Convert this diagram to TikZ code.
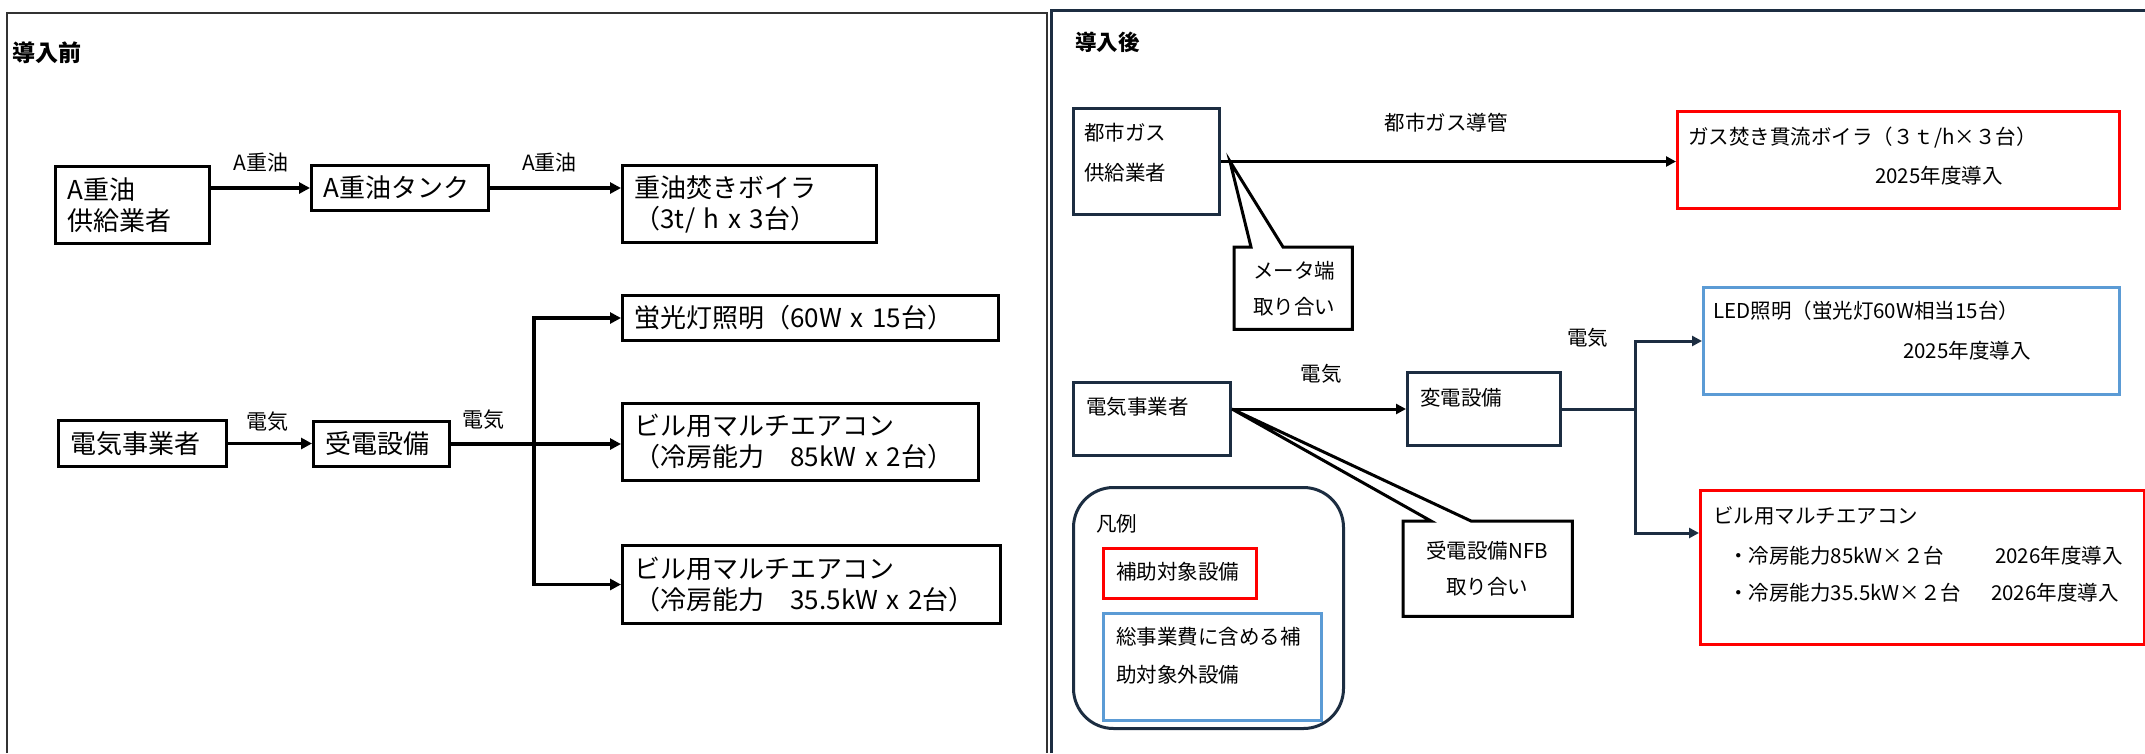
\documentclass[tikz,border=0pt]{standalone}
\usepackage{fontspec}
\newfontfamily\jp{Noto Sans CJK JP}
\usetikzlibrary{arrows.meta,calc}
\definecolor{navy}{RGB}{28,45,65}
\definecolor{lblue}{RGB}{91,155,213}
\definecolor{myred}{RGB}{255,0,0}
\newcommand\fbig{\jp\fontsize{26}{31}\selectfont}
\newcommand\fmid{\jp\fontsize{21}{25}\selectfont}
\newcommand\fsml{\jp\fontsize{20.5}{25}\selectfont}
\newcommand\fcall{\jp\fontsize{20.5}{36}\selectfont}
\begin{document}
\begin{tikzpicture}[x=1pt,y=-1pt,
  lbox/.style={draw=black, line width=3pt, anchor=north west, align=left, inner xsep=12pt, inner ysep=0pt, font=\fbig},
  rbox/.style={draw=navy, line width=3pt, anchor=north west, inner sep=0pt},
  redbox/.style={draw=myred, line width=3pt, anchor=north west, inner sep=0pt},
  bluebox/.style={draw=lblue, line width=3pt, anchor=north west, inner sep=0pt},
  txt/.style={inner sep=0pt, anchor=west, font=\fsml},
  ltxt/.style={inner sep=0pt, font=\fmid},
  ctxt/.style={inner sep=0pt, align=center, font=\fcall},
  larr/.style={line width=3.5pt, -{Triangle[length=11pt,width=11pt]}},
  rarr/.style={draw=navy, line width=3pt, -{Triangle[length=10pt,width=10pt]}},
  barr/.style={draw=black, line width=3pt, -{Triangle[length=10pt,width=10pt]}},
  cline/.style={draw=black, line width=3pt, fill=white},
  callbox/.style={anchor=north west, inner sep=0pt},
]
\useasboundingbox (0,0) rectangle (2145,753);
\fill[white] (0,0) rectangle (2145,753);

% ---------------- left panel ----------------
\draw[line width=2pt, black!80] (7,753) -- (7,13) -- (1047,13) -- (1047,753);
\node[txt, font=\jp\bfseries\fontsize{23}{23}\selectfont] (tbefore) at (12,52.5) {導入前};

\node[lbox, text width=130pt, minimum height=77pt] (sup) at (54,165) {A重油\\供給業者};
\node[lbox, text width=153pt, minimum height=45pt] (tank) at (310,164) {A重油タンク};
\node[lbox, text width=230pt, minimum height=77pt] (boil) at (621,164) {重油焚きボイラ\\（3t/~h~x~3台）};
\node[lbox, text width=352pt, minimum height=45pt] (light) at (621,294) {蛍光灯照明（60W~x~15台）};
\node[lbox, text width=332pt, minimum height=77pt] (ac1) at (621,402) {ビル用マルチエアコン\\（冷房能力　85kW~x~2台）};
\node[lbox, text width=354pt, minimum height=78pt] (ac2) at (621,544) {ビル用マルチエアコン\\（冷房能力　35.5kW~x~2台）};
\node[lbox, text width=144pt, minimum height=46pt] (elec) at (57,419) {電気事業者};
\node[lbox, text width=112pt, minimum height=45pt] (recv) at (312,420) {受電設備};

\draw[larr] (tank.west -| sup.east) -- (tank.west);
\draw[larr] (tank.east) -- (tank.east -| boil.west);
\draw[larr] (elec.east) -- (elec.east -| recv.west);
\coordinate (jl) at (534,0);
\draw[larr] (recv.east) -- (recv.east -| ac1.west);
\draw[larr] (recv.east -| jl) |- (light.west);
\draw[larr] (recv.east -| jl) |- (ac2.west);

\node[ltxt] (lab1) at (261,163) {A重油};
\node[ltxt] (lab2) at (549.5,163) {A重油};
\node[ltxt] (lab3) at (267,421.5) {電気};
\node[ltxt] (lab4) at (483.5,420) {電気};

% ---------------- right panel ----------------
\draw[line width=3pt, navy] (1051,753) -- (1051,10) -- (2145,10);
\node[txt, font=\jp\bfseries\fontsize{21.5}{22}\selectfont] (tafter) at (1075,42) {導入後};

\node[rbox, minimum width=146pt, minimum height=106pt] (gas) at (1072,107) {};
\node[txt] (gast1) at (1084,132.5) {都市ガス};
\node[txt] (gast2) at (1084,172.5) {供給業者};

\node[redbox, minimum width=442pt, minimum height=97pt] (rboil) at (1676,110) {};
\node[txt] (rboilt1) at (1688,137.5) {ガス焚き貫流ボイラ（３ｔ/h×３台）};
\node[txt] (rboilt2) at (1875,176) {2025年度導入};

% callout: meter
\node[callbox, minimum width=118pt, minimum height=82pt] (meter) at (1234,247) {};
\draw[cline] (meter.north west) -- ++(17,0) -- ($(gas.east)+(9,0)$) -- ($(meter.north west)+(49,0)$) -- (meter.north east) -- (meter.south east) -- (meter.south west) -- cycle;
\node[ctxt] (metert) at (1294,289) {メータ端\\取り合い};

\draw[barr, line width=3.5pt] (gas.east) -- (gas.east -| rboil.west);
\node[ltxt, font=\fsml] (gasl) at (1446,122.5) {都市ガス導管};

\node[bluebox, minimum width=416pt, minimum height=107pt] (led) at (1702,286) {};
\node[txt] (ledt1) at (1713,311) {LED照明（蛍光灯60W相当15台）};
\node[txt] (ledt2) at (1903,351) {2025年度導入};

\node[rbox, minimum width=157pt, minimum height=73pt] (relec) at (1072,381) {};
\node[txt] (relect) at (1086,407) {電気事業者};
\node[rbox, minimum width=153pt, minimum height=73pt] (hen) at (1406,371) {};
\node[txt] (hent) at (1420,398) {変電設備};
\node[ltxt, font=\fsml] (lab5) at (1321,374) {電気};

% callout: NFB
\node[callbox, minimum width=169pt, minimum height=95pt] (nfb) at (1403,521) {};
\draw[cline] (nfb.north west) -- ++(28,0) -- (hen.west -| relec.east) -- ($(nfb.north west)+(68,0)$) -- (nfb.north east) -- (nfb.south east) -- (nfb.south west) -- cycle;
\node[ctxt] (nfbt) at (1487,569) {受電設備NFB\\取り合い};

\draw[barr] (hen.west -| relec.east) -- (hen.west);

\node[redbox, minimum width=444pt, minimum height=154pt] (ac) at (1699,489) {};
\node[txt] (act1) at (1713,516) {ビル用マルチエアコン};
\node[txt] (act2) at (1728,556) {・冷房能力85kW×２台};
\node[txt] (act3) at (1995,556) {2026年度導入};
\node[txt] (act4) at (1728,592.5) {・冷房能力35.5kW×２台};
\node[txt] (act5) at (1991,592.5) {2026年度導入};

\coordinate (jr) at (1635,0);
\draw[navy, line width=3pt] (hen.east) -- (hen.east -| jr);
\draw[rarr] (hen.east -| jr) |- (led.west);
\draw[rarr] (hen.east -| jr) |- ($(ac.north west)+(0,44)$);
\node[ltxt, font=\fsml] (lab6) at (1587.5,337.5) {電気};

% legend
\node[rbox, rounded corners=40pt, minimum width=270pt, minimum height=241pt] (legend) at (1072,486) {};
\node[txt] (lgt) at (1096,523.5) {凡例};
\node[redbox, minimum width=153pt, minimum height=50pt] (lgr) at (1102,547) {};
\node[txt] (lgrt) at (1116,572) {補助対象設備};
\node[bluebox, minimum width=218pt, minimum height=107pt] (lgb) at (1102,612) {};
\node[txt] (lgbt1) at (1116,637) {総事業費に含める補};
\node[txt] (lgbt2) at (1116,675) {助対象外設備};
\end{tikzpicture}
\end{document}
